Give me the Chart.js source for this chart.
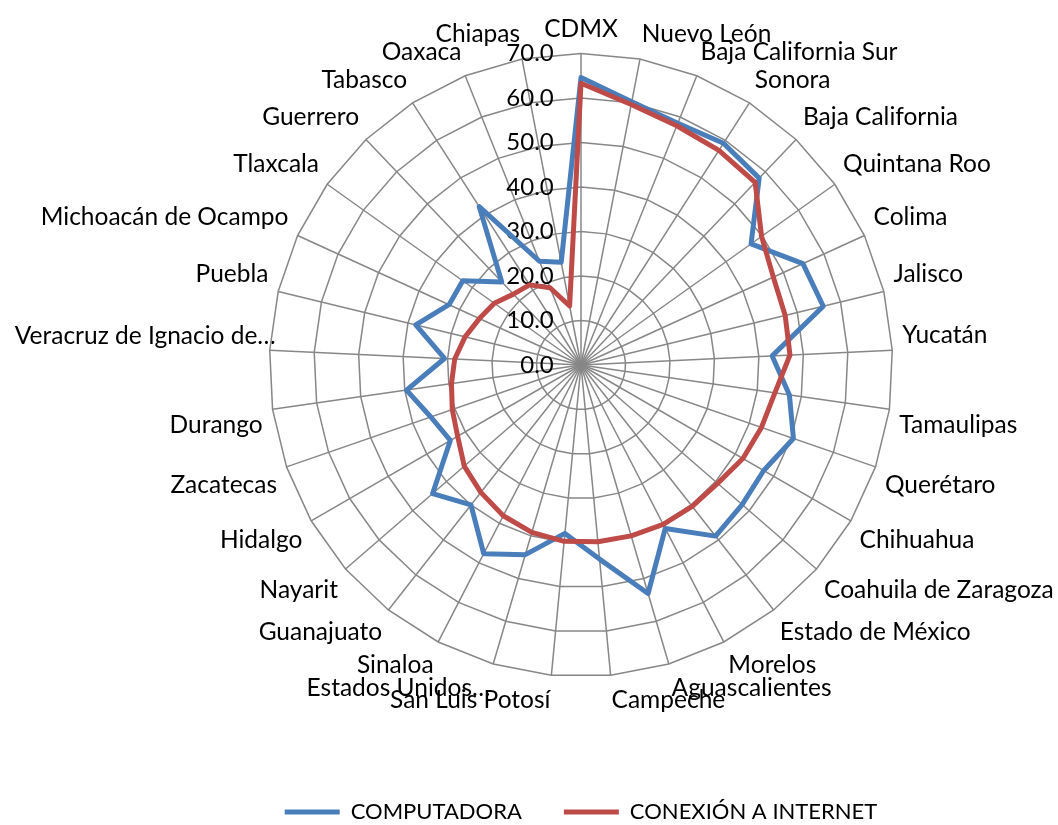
<!DOCTYPE html>
<html>
<head>
<meta charset="utf-8">
<script src="https://cdn.jsdelivr.net/npm/chart.js@4.4.1/dist/chart.umd.min.js"></script>
<style>
    html, body { margin: 0; padding: 0; background: #fff; overflow: hidden; width: 1058px; height: 825px; }
    /* canvas is wider than the window so the long left labels can hang out like in Excel */
    #myChart { position: absolute; left: -80px; top: 0; }
</style>
</head>
<body>
<canvas id="myChart" width="1322" height="833"></canvas>
<script>
'use strict';

var categories = ['CDMX', 'Nuevo León', 'Baja California Sur', 'Sonora', 'Baja California',
    'Quintana Roo', 'Colima', 'Jalisco', 'Yucatán', 'Tamaulipas', 'Querétaro', 'Chihuahua',
    'Coahuila de Zaragoza', 'Estado de México', 'Morelos', 'Aguascalientes', 'Campeche',
    'San Luis Potosí', 'Estados Unidos…', 'Sinaloa', 'Guanajuato', 'Nayarit', 'Hidalgo',
    'Zacatecas', 'Durango', 'Veracruz de Ignacio de…', 'Puebla', 'Michoacán de Ocampo',
    'Tlaxcala', 'Guerrero', 'Tabasco', 'Oaxaca', 'Chiapas'];

var computadora = [64.6, 60.2, 58.5, 59.2, 58.0, 46.9, 54.8, 56.0, 43.0, 47.3, 50.5, 47.4,
    47.9, 48.9, 41.3, 53.5, 43.8, 38.0, 44.4, 47.7, 40.0, 44.1, 33.9, 35.7, 39.6, 30.7,
    38.2, 32.6, 32.6, 25.8, 42.3, 25.1, 23.5];

var internet = [63.3, 59.6, 57.9, 57.3, 56.7, 49.8, 47.5, 47.2, 47.0, 44.0, 42.9, 42.0,
    40.6, 40.4, 40.3, 40.0, 39.9, 39.8, 39.2, 38.1, 36.4, 34.7, 32.0, 30.6, 29.4, 28.4,
    26.8, 25.1, 23.9, 22.0, 21.4, 18.7, 13.5];

var seriesNames = ['COMPUTADORA', 'CONEXIÓN A INTERNET'];
var tickMin = 0;
var tickMax = 70;
var tickStep = 10;

Chart.defaults.font.family = 'Lato';
Chart.defaults.color = '#000';

var ctx = document.getElementById('myChart').getContext('2d');

var chart = new Chart(ctx, {
    type: 'radar',
    data: {
        labels: categories,
        datasets: [{
                label: seriesNames[0],
                data: computadora,
                borderColor: '#4A7EBB',
                backgroundColor: '#4A7EBB',
                borderWidth: 5,
                borderJoinStyle: 'round',
                borderCapStyle: 'round',
                fill: false,
                pointRadius: 0,
                order: 1
            },
            {
                label: seriesNames[1],
                data: internet,
                borderColor: '#BE4B48',
                backgroundColor: '#BE4B48',
                borderWidth: 5,
                borderJoinStyle: 'round',
                borderCapStyle: 'round',
                fill: false,
                pointRadius: 0,
                order: 0
            }
        ]
    },
    options: {
        responsive: false,
        animation: false,
        layout: { padding: { top: 14, left: 0, right: 0, bottom: 0 } },
        elements: { line: { tension: 0 } },
        scales: {
            r: {
                min: tickMin,
                max: tickMax,
                beginAtZero: true,
                grid: { color: '#878787', lineWidth: 1.5 },
                angleLines: { color: '#878787', lineWidth: 1.5 },
                afterBuildTicks: function (scale) {
                    // radar skips the first tick label, keep the 0.0 one
                    scale.ticks.unshift({ value: tickMin });
                },
                ticks: {
                    stepSize: tickStep,
                    showLabelBackdrop: false,
                    backdropPadding: 2,
                    font: { size: 24 },
                    color: '#000',
                    callback: function (value) {
                        // pad right so the centred label sits left of the axis
                        return value.toFixed(1).padStart(4, '\u2007') + '\u2003\u2003\u2003\u2003\u2003\u2002';
                    }
                },
                pointLabels: {
                    // the truncated Veracruz label overlaps the ring, as in the original
                    padding: function (c) {
                        return c.label === 'Veracruz de Ignacio de…' ? -20 : -4;
                    },
                    font: { size: 24.5, lineHeight: 1.2 },
                    color: '#000'
                }
            }
        },
        plugins: {
            tooltip: { enabled: false },
            legend: {
                position: 'bottom',
                title: {
                    display: true,
                    text: '',
                    font: { size: 10, lineHeight: 1 },
                    padding: { top: 33, bottom: 0 }
                },
                labels: {
                    usePointStyle: true,
                    pointStyle: 'line',
                    pointStyleWidth: 55,
                    padding: 42,
                    font: { size: 22 },
                    color: '#000',
                    sort: function (a, b) {
                        return a.datasetIndex - b.datasetIndex;
                    }
                }
            }
        }
    }
});
</script>
</body>
</html>
